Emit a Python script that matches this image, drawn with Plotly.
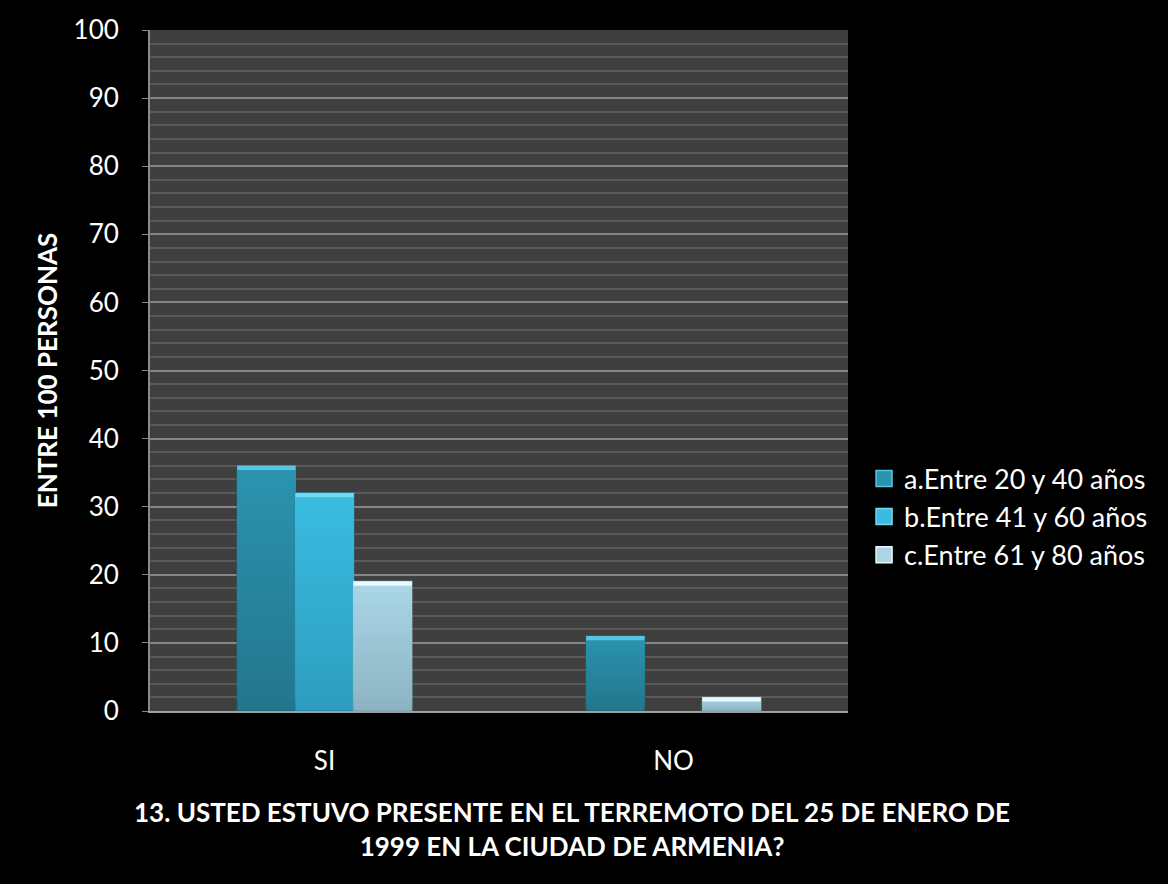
import plotly.graph_objects as go

categories = ["SI", "NO"]
series_names = ["a.Entre 20 y 40 años", "b.Entre 41 y 60 años", "c.Entre 61 y 80 años"]
values_a = [36, 11]
values_b = [32, 0]
values_c = [19, 2]
y_ticks = [0, 10, 20, 30, 40, 50, 60, 70, 80, 90, 100]

# per-series shading: bottom colour, top colour, outline, bevel highlight
bottom_colors = ["#23768D", "#2D9EBF", "#8DB4C3"]
top_colors = ["#2B93AE", "#3ABCE0", "#AAD6E6"]
edge_colors = ["#1C6579", "#2587A4", "#7FA3B1"]
bevel_colors = ["#58C6E0", "#74DAF4", "#E6FAFF"]

font_family = "Lato, 'Open Sans', sans-serif"
N_BANDS = 24


def mix(c1, c2, t):
    a = [int(c1[i:i + 2], 16) for i in (1, 3, 5)]
    b = [int(c2[i:i + 2], 16) for i in (1, 3, 5)]
    return "#" + "".join(f"{round(x + (y - x) * t):02X}" for x, y in zip(a, b))


fig = go.Figure()
all_values = [values_a, values_b, values_c]
for i, vals in enumerate(all_values):
    shown = [v if v > 0 else None for v in vals]
    # vertical shading built from overlaid bands, darkest at the bottom
    for j in range(N_BANDS):
        frac = j / N_BANDS
        fig.add_trace(go.Bar(
            x=categories,
            y=[None if v is None else v * (1 - frac) for v in shown],
            base=[None if v is None else v * frac for v in shown],
            offsetgroup=str(i), showlegend=False, hoverinfo="skip",
            marker=dict(color=mix(bottom_colors[i], top_colors[i], j / (N_BANDS - 1)),
                        line=dict(color=edge_colors[i], width=1.5 if j == 0 else 0)),
        ))
    # light bevel along the top edge
    cap = [None if v is None else min(0.6, v) for v in shown]
    fig.add_trace(go.Bar(
        x=categories, y=cap,
        base=[None if v is None else v - c for v, c in zip(shown, cap)],
        offsetgroup=str(i), showlegend=False, hoverinfo="skip",
        marker=dict(color=bevel_colors[i], line=dict(width=0)),
    ))

# legend entries
for i, name in enumerate(series_names):
    fig.add_trace(go.Scatter(
        x=[None], y=[None], mode="markers", name=name,
        marker=dict(symbol="square", size=17, color=top_colors[i],
                    line=dict(color=bevel_colors[i], width=1.5)),
    ))

fig.update_layout(
    width=1168, height=884,
    paper_bgcolor="#000000", plot_bgcolor="#3F3F3F",
    margin=dict(l=150, r=320, t=30, b=173),
    barmode="group", bargap=0.5, bargroupgap=0,
    font=dict(family=font_family, color="#FFFFFF", size=24),
    legend=dict(
        x=1.023, xanchor="left", y=0.285, yanchor="middle",
        font=dict(size=27, color="#FFFFFF"),
        bgcolor="rgba(0,0,0,0)", itemwidth=30,
    ),
    showlegend=True,
)
fig.update_xaxes(
    showline=True, linecolor="#A0A0A0", linewidth=2,
    tickfont=dict(size=26, color="#FFFFFF"), ticks="", ticklabelstandoff=26,
    showgrid=False,
)
fig.update_yaxes(
    range=[0, 100], tickvals=y_ticks, ticktext=[str(t) for t in y_ticks],
    showline=True, linecolor="#8A8A8A", linewidth=2,
    ticks="outside", ticklen=6, tickcolor="#8A8A8A", ticklabelstandoff=18,
    tickfont=dict(size=26, color="#FFFFFF"),
    showgrid=True, gridcolor="#858585", gridwidth=1.5,
    minor=dict(dtick=2, showgrid=True, gridcolor="#595959", gridwidth=1.5),
    zeroline=False,
    title=dict(text="<b>ENTRE 100 PERSONAS</b>", font=dict(size=26, color="#FFFFFF"), standoff=8),
)
fig.add_annotation(
    text="<b>13. USTED ESTUVO PRESENTE EN EL TERREMOTO DEL 25 DE ENERO DE<br>1999 EN LA CIUDAD DE ARMENIA?</b>",
    xref="paper", yref="paper", x=(572 - 150) / (1168 - 150 - 320), y=-0.122,
    xanchor="center", yanchor="top", showarrow=False, align="center",
    font=dict(size=26, color="#FFFFFF"),
)

fig.write_html("out.html")
